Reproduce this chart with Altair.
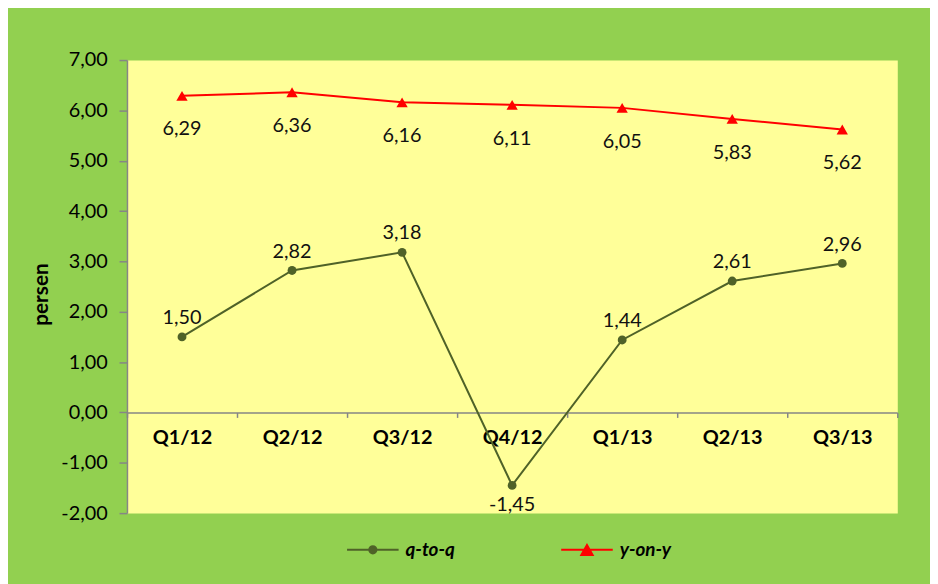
import altair as alt
import pandas as pd

quarters = ["Q1/12", "Q2/12", "Q3/12", "Q4/12", "Q1/13", "Q2/13", "Q3/13"]
q_to_q = [1.50, 2.82, 3.18, -1.45, 1.44, 2.61, 2.96]
y_on_y = [6.29, 6.36, 6.16, 6.11, 6.05, 5.83, 5.62]
series_names = ["q-to-q", "y-on-y"]
series_colors = ["#4F6228", "#FF0000"]
y_ticks = [-2, -1, 0, 1, 2, 3, 4, 5, 6, 7]

rows = []
for i, q in enumerate(quarters):
    rows.append({"kuartal": q, "seri": series_names[0], "nilai": q_to_q[i]})
    rows.append({"kuartal": q, "seri": series_names[1], "nilai": y_on_y[i]})
df = pd.DataFrame(rows)

FONT = "Lato"
AXIS_GRAY = "#868686"
PLOT_H = 457
PLOT_W = 777

circle_path = "M-1,0L1,0M-0.14,0A0.14,0.14,0,1,0,0.14,0A0.14,0.14,0,1,0,-0.14,0Z"
tri_path = "M-1,0L1,0M0,-0.19L-0.22,0.2L0.22,0.2Z"


def id_num(expr):
    return f"(({expr}) < 0 ? '-' : '') + replace(format(abs({expr}), '.2f'), '.', ',')"


x_enc = alt.X(
    "kuartal:N",
    sort=quarters,
    bandPosition=0.5,
    scale=alt.Scale(type="band", paddingInner=0, paddingOuter=0),
    axis=alt.Axis(
        title=None,
        offset=-(PLOT_H * 2 / 9),
        tickBand="extent",
        labelAngle=0,
        labelFont=FONT,
        labelFontSize=20,
        labelFontWeight="bold",
        labelColor="#000000",
        labelPadding=10,
        domainColor=AXIS_GRAY,
        domainWidth=1.5,
        tickColor=AXIS_GRAY,
        tickWidth=1.5,
        tickSize=5,
        grid=False,
    ),
)

y_enc = alt.Y(
    "nilai:Q",
    scale=alt.Scale(domain=[-2, 7], nice=False, zero=False),
    axis=alt.Axis(
        title="persen",
        values=y_ticks,
        labelExpr=id_num("datum.value"),
        labelFont=FONT,
        labelFontSize=20,
        labelColor="#000000",
        labelPadding=12,
        titleFont=FONT,
        titleFontSize=21,
        titleFontWeight="bold",
        titleColor="#000000",
        titleX=-80,
        titleY=236,
        titleAngle=-90,
        titleAlign="center",
        titleBaseline="alphabetic",
        domainColor=AXIS_GRAY,
        domainWidth=1.5,
        tickColor=AXIS_GRAY,
        tickWidth=1.5,
        tickSize=8,
        grid=False,
    ),
)

color_scale = alt.Scale(domain=series_names, range=series_colors)
shape_scale = alt.Scale(domain=series_names, range=[circle_path, tri_path])

legend = alt.Legend(
    title=None,
    orient="none",
    legendX=221,
    legendY=467,
    direction="horizontal",
    padding=0,
    symbolSize=2704,
    symbolStrokeWidth=2,
    symbolOpacity=1,
    labelFont=FONT,
    labelFontSize=19,
    labelFontWeight="bold",
    labelFontStyle="italic",
    labelColor="#000000",
    labelOffset=6,
    columnPadding=103,
)

base = alt.Chart(df).encode(x=x_enc, y=y_enc)

legend_layer = base.transform_filter("false").mark_point(filled=True, opacity=1).encode(
    color=alt.Color("seri:N", scale=color_scale, legend=legend),
    shape=alt.Shape("seri:N", scale=shape_scale, legend=legend),
)

lines = base.mark_line(strokeWidth=2).encode(
    color=alt.Color("seri:N", scale=color_scale, legend=legend)
)

pts_q = base.transform_filter("datum.seri === 'q-to-q'").mark_point(
    shape="circle", filled=True, size=80, opacity=1, color=series_colors[0]
)
pts_y = base.transform_filter("datum.seri === 'y-on-y'").mark_point(
    shape="triangle-up", filled=True, size=130, opacity=1, color=series_colors[1]
)

label_calc = id_num("datum.nilai")
txt_kw = dict(font=FONT, fontSize=20, color="#111111", baseline="middle", align="center")

txt_q_up = base.transform_filter("datum.seri === 'q-to-q' && datum.nilai >= 0").transform_calculate(
    lbl=label_calc
).mark_text(dy=-19, **txt_kw).encode(text="lbl:N")
txt_q_dn = base.transform_filter("datum.seri === 'q-to-q' && datum.nilai < 0").transform_calculate(
    lbl=label_calc
).mark_text(dy=20, **txt_kw).encode(text="lbl:N")
txt_y = base.transform_filter("datum.seri === 'y-on-y'").transform_calculate(
    lbl=label_calc
).mark_text(dy=34, **txt_kw).encode(text="lbl:N")

chart = (
    alt.layer(legend_layer, lines, pts_q, pts_y, txt_q_up, txt_q_dn, txt_y)
    .properties(
        width=PLOT_W,
        height=PLOT_H,
        background="#92D050",
        autosize="none",
        padding={"left": 120, "top": 50, "right": 33, "bottom": 69},
    )
    .configure_view(fill="#FFFF99", stroke="transparent")
)

chart.save("out.html", embed_options={"renderer": "svg", "actions": False})
